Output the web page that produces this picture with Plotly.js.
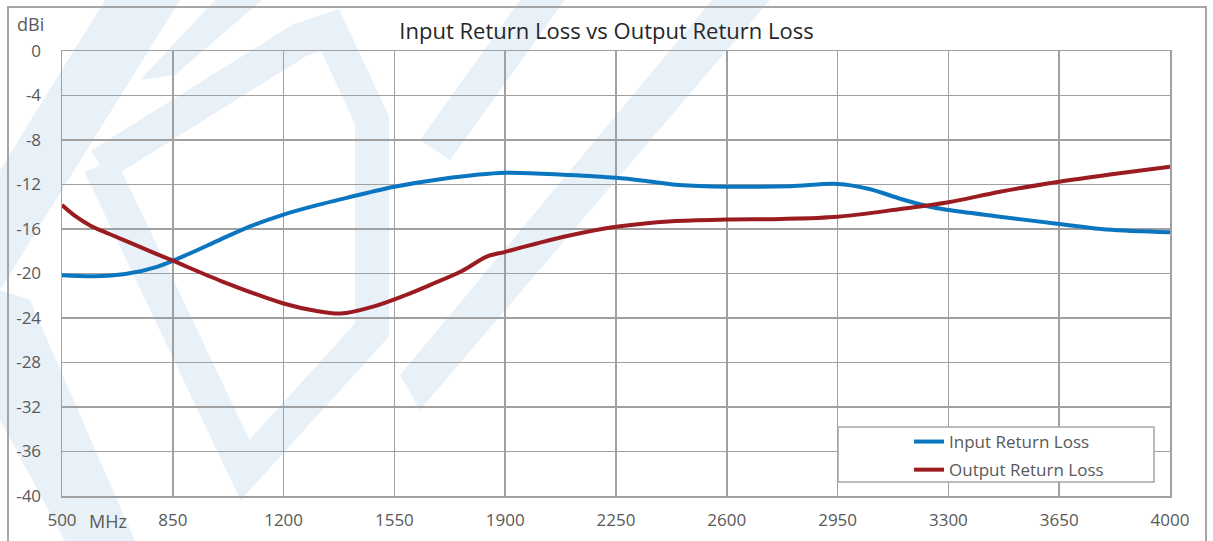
<!DOCTYPE html>
<html>
<head>
<meta charset="utf-8">
<script src="https://cdn.plot.ly/plotly-3.0.1.min.js"></script>
<style>html,body{margin:0;padding:0;background:#fff;}#chart{width:1213px;height:541px;}</style>
</head>
<body>
<div id="chart"></div>
<script>
// ---- data ----
const inputFreq = [500, 600, 700, 800, 900, 1000, 1100, 1200, 1300, 1400, 1550, 1700, 1900, 2100, 2250, 2350, 2450, 2600, 2800, 2950, 3050, 3150, 3250, 3300, 3450, 3650, 3800, 4000];
const inputLoss = [-20.15, -20.25, -20.05, -19.4, -18.25, -16.95, -15.7, -14.7, -13.9, -13.2, -12.2, -11.5, -10.95, -11.15, -11.4, -11.7, -12.05, -12.2, -12.15, -11.95, -12.4, -13.3, -14.05, -14.3, -14.85, -15.55, -16.05, -16.3];
const outputFreq = [500, 540, 590, 650, 720, 850, 1005, 1200, 1300, 1380, 1480, 1580, 1665, 1765, 1840, 1900, 2000, 2100, 2250, 2427, 2600, 2770, 2950, 3150, 3300, 3463, 3650, 3810, 4000];
const outputLoss = [-13.85, -14.8, -15.7, -16.45, -17.3, -18.85, -20.7, -22.7, -23.35, -23.6, -23.0, -22.0, -21.0, -19.75, -18.5, -18.05, -17.3, -16.6, -15.8, -15.3, -15.15, -15.1, -14.9, -14.2, -13.6, -12.65, -11.75, -11.1, -10.4];
const seriesNames = ["Input Return Loss", "Output Return Loss"];
const xTicks = [500, 850, 1200, 1550, 1900, 2250, 2600, 2950, 3300, 3650, 4000];
const yTicks = [0, -4, -8, -12, -16, -20, -24, -28, -32, -36, -40];
const chartTitle = "Input Return Loss vs Output Return Loss";
const yUnit = "dBi";
const xUnit = "MHz";

// ---- layout helpers (pixel -> paper) ----
const W = 1213, H = 541, L = 62, R = 1170, T = 51, B = 496;
const px = x => (x - L) / (R - L);
const py = y => (B - y) / (B - T);
function poly(pts) {
  return pts.map((p, i) => (i ? 'L' : 'M') + px(p[0]).toFixed(4) + ',' + py(p[1]).toFixed(4)).join(' ') + ' Z';
}
function line(pts) {
  return pts.map((p, i) => (i ? 'L' : 'M') + px(p[0]).toFixed(4) + ',' + py(p[1]).toFixed(4)).join(' ');
}
const wm = 'rgb(233,241,248)';
const FONT = '"Open Sans", "DejaVu Sans", sans-serif';
const grid = '#a0a0a0';

const shapes = [
  // watermark (decorative, below grid)
  {type:'path', xref:'paper', yref:'paper', layer:'below', path: poly([[105,0],[180,0],[0,290],[0,170]]), fillcolor: wm, line:{width:0}},
  {type:'path', xref:'paper', yref:'paper', layer:'below', path: poly([[0,290],[30,300],[135,541],[65,541],[0,420]]), fillcolor: wm, line:{width:0}},
  {type:'path', xref:'paper', yref:'paper', layer:'below', path: line([[100,165],[245,470],[372,330],[372,120],[330,30],[300,40],[100,165]]), line:{color: wm, width: 34}},
  {type:'path', xref:'paper', yref:'paper', layer:'below', path: poly([[215,0],[262,0],[175,75],[140,80]]), fillcolor: wm, line:{width:0}},
  {type:'path', xref:'paper', yref:'paper', layer:'below', path: poly([[520,0],[565,0],[450,160],[420,140]]), fillcolor: wm, line:{width:0}},
  {type:'path', xref:'paper', yref:'paper', layer:'below', path: poly([[712,0],[770,0],[420,410],[400,375]]), fillcolor: wm, line:{width:0}},
  // outer chart border
  {type:'rect', xref:'paper', yref:'paper', layer:'above', x0: px(8), x1: px(1206), y0: py(548), y1: py(7), line:{color:'#a6a6a6', width:2}, fillcolor:'rgba(0,0,0,0)'},
  // legend box
  {type:'rect', xref:'paper', yref:'paper', layer:'above', x0: px(838), x1: px(1154), y0: py(482), y1: py(427), line:{color:'#a6a6a6', width:1.5}, fillcolor:'#ffffff'}
];

const traces = [
  {x: inputFreq, y: inputLoss, name: seriesNames[0], type:'scatter', mode:'lines', legendgroup:'a',
   line:{color:'#0a76c0', width:4, shape:'spline', smoothing:0.9}},
  {x: outputFreq, y: outputLoss, name: seriesNames[1], type:'scatter', mode:'lines', legendgroup:'b',
   line:{color:'#9b1c20', width:4, shape:'spline', smoothing:0.9}}
];

const layout = {
  width: W, height: H,
  margin: {l: L, r: W - R, t: T, b: H - B, pad: 0},
  paper_bgcolor: '#ffffff', plot_bgcolor: 'rgba(0,0,0,0)',
  font: {family: FONT, color: '#595959', size: 17},
  title: {text: chartTitle, font:{family: FONT, size: 22, color:'#262626'}, x: px(606.5), xref:'paper', xanchor:'center', y: 1 - 31/H, yref:'container', yanchor:'middle'},
  xaxis: {range:[500, 4000], tickvals: xTicks, ticktext: xTicks.map(String), showgrid:true, gridcolor: grid, gridwidth:1.5,
          showline:true, linecolor: grid, linewidth:1.5, mirror:true, zeroline:false, ticks:'', ticklabelstandoff: 8,
          tickfont:{size:17, color:'#595959'}, fixedrange:true},
  yaxis: {range:[-40, 0], tickvals: yTicks, ticktext: yTicks.map(String), showgrid:true, gridcolor: grid, gridwidth:1.5,
          showline:true, linecolor: grid, linewidth:1.5, mirror:true, zeroline:false, ticks:'', ticklabelstandoff: 16,
          tickfont:{size:17, color:'#595959'}, fixedrange:true},
  showlegend: true,
  legend: {x: px(909), xanchor:'left', y: py(424), yanchor:'top', bgcolor:'rgba(0,0,0,0)', borderwidth:0,
           font:{size:17, color:'#595959', family: FONT}, tracegroupgap: 3, itemwidth: 30},
  shapes: shapes,
  annotations: [
    {text: yUnit, xref:'paper', yref:'paper', x: px(30), y: py(24), showarrow:false, xanchor:'center', yanchor:'middle', font:{size:18, color:'#595959'}},
    {text: xUnit, xref:'paper', yref:'paper', x: px(108), y: py(521), showarrow:false, xanchor:'center', yanchor:'middle', font:{size:18, color:'#595959'}}
  ]
};

Plotly.newPlot('chart', traces, layout, {displayModeBar:false, staticPlot:true});
</script>
</body>
</html>
